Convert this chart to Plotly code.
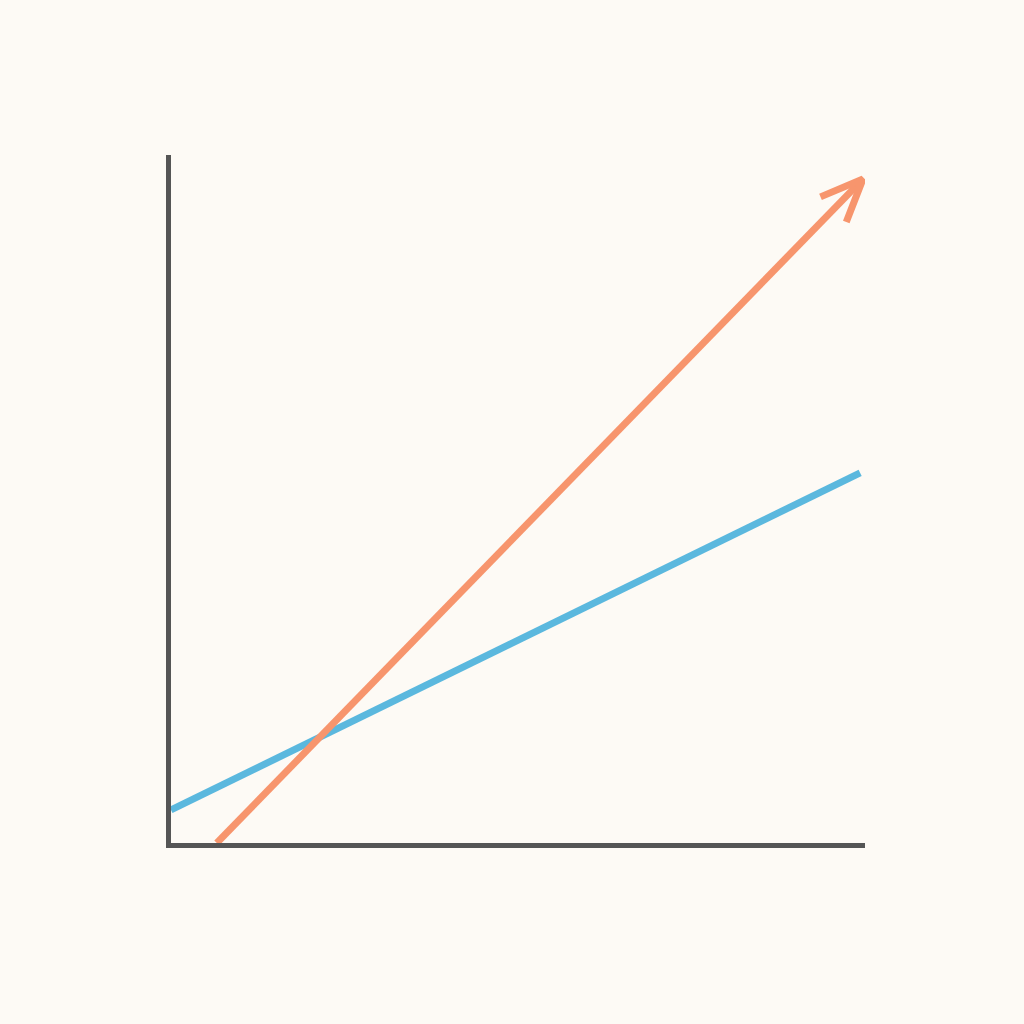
import numpy as np
import plotly.graph_objects as go

# values (data units, both axes 0-10)
blue_x = [0.0, 9.93]
blue_y = [0.48, 5.38]
orange_x = [0.66, 9.97]
orange_y = [0.0, 9.65]

BG = "#FDFAF5"
AXIS = "#555555"
BLUE = "#5BB8DE"
ORANGE = "#F7956D"

W, H = 1024, 1024
M = dict(l=171, r=159, t=155, b=181)
X_RANGE = [0, 10]
Y_RANGE = [0, 10]


def _arrow_head(xs, ys, length=46, half_angle=23):
    # chevron at the end of a line, built in pixel space then mapped back
    px_x = (W - M["l"] - M["r"]) / (X_RANGE[1] - X_RANGE[0])
    px_y = (H - M["t"] - M["b"]) / (Y_RANGE[1] - Y_RANGE[0])
    dx = (xs[-1] - xs[-2]) * px_x
    dy = (ys[-1] - ys[-2]) * px_y
    ang = np.arctan2(dy, dx)
    out_x, out_y = [], []
    for sign in (1, -1):
        a = ang + np.pi + sign * np.radians(half_angle)
        out_x.append(xs[-1] + length * np.cos(a) / px_x)
        out_y.append(ys[-1] + length * np.sin(a) / px_y)
    return [out_x[0], xs[-1], out_x[1]], [out_y[0], ys[-1], out_y[1]]


fig = go.Figure()
fig.add_trace(go.Scatter(x=blue_x, y=blue_y, mode="lines",
                         line=dict(color=BLUE, width=7),
                         hoverinfo="skip", cliponaxis=False))
fig.add_trace(go.Scatter(x=orange_x, y=orange_y, mode="lines",
                         line=dict(color=ORANGE, width=7),
                         hoverinfo="skip", cliponaxis=False))
hx, hy = _arrow_head(orange_x, orange_y)
fig.add_trace(go.Scatter(x=hx, y=hy, mode="lines",
                         line=dict(color=ORANGE, width=7),
                         hoverinfo="skip", cliponaxis=False))

fig.update_layout(
    width=W, height=H, margin=M, showlegend=False,
    paper_bgcolor=BG, plot_bgcolor=BG,
    xaxis=dict(range=X_RANGE, showline=True, linewidth=5, linecolor=AXIS,
               showgrid=False, zeroline=False, showticklabels=False,
               ticks=""),
    yaxis=dict(range=Y_RANGE, showline=True, linewidth=5, linecolor=AXIS,
               showgrid=False, zeroline=False, showticklabels=False,
               ticks=""),
)

fig.write_html(
    "out.html",
    config={"displayModeBar": False},
    post_script="document.body.style.margin='0';"
                "document.body.style.background='" + BG + "';")
